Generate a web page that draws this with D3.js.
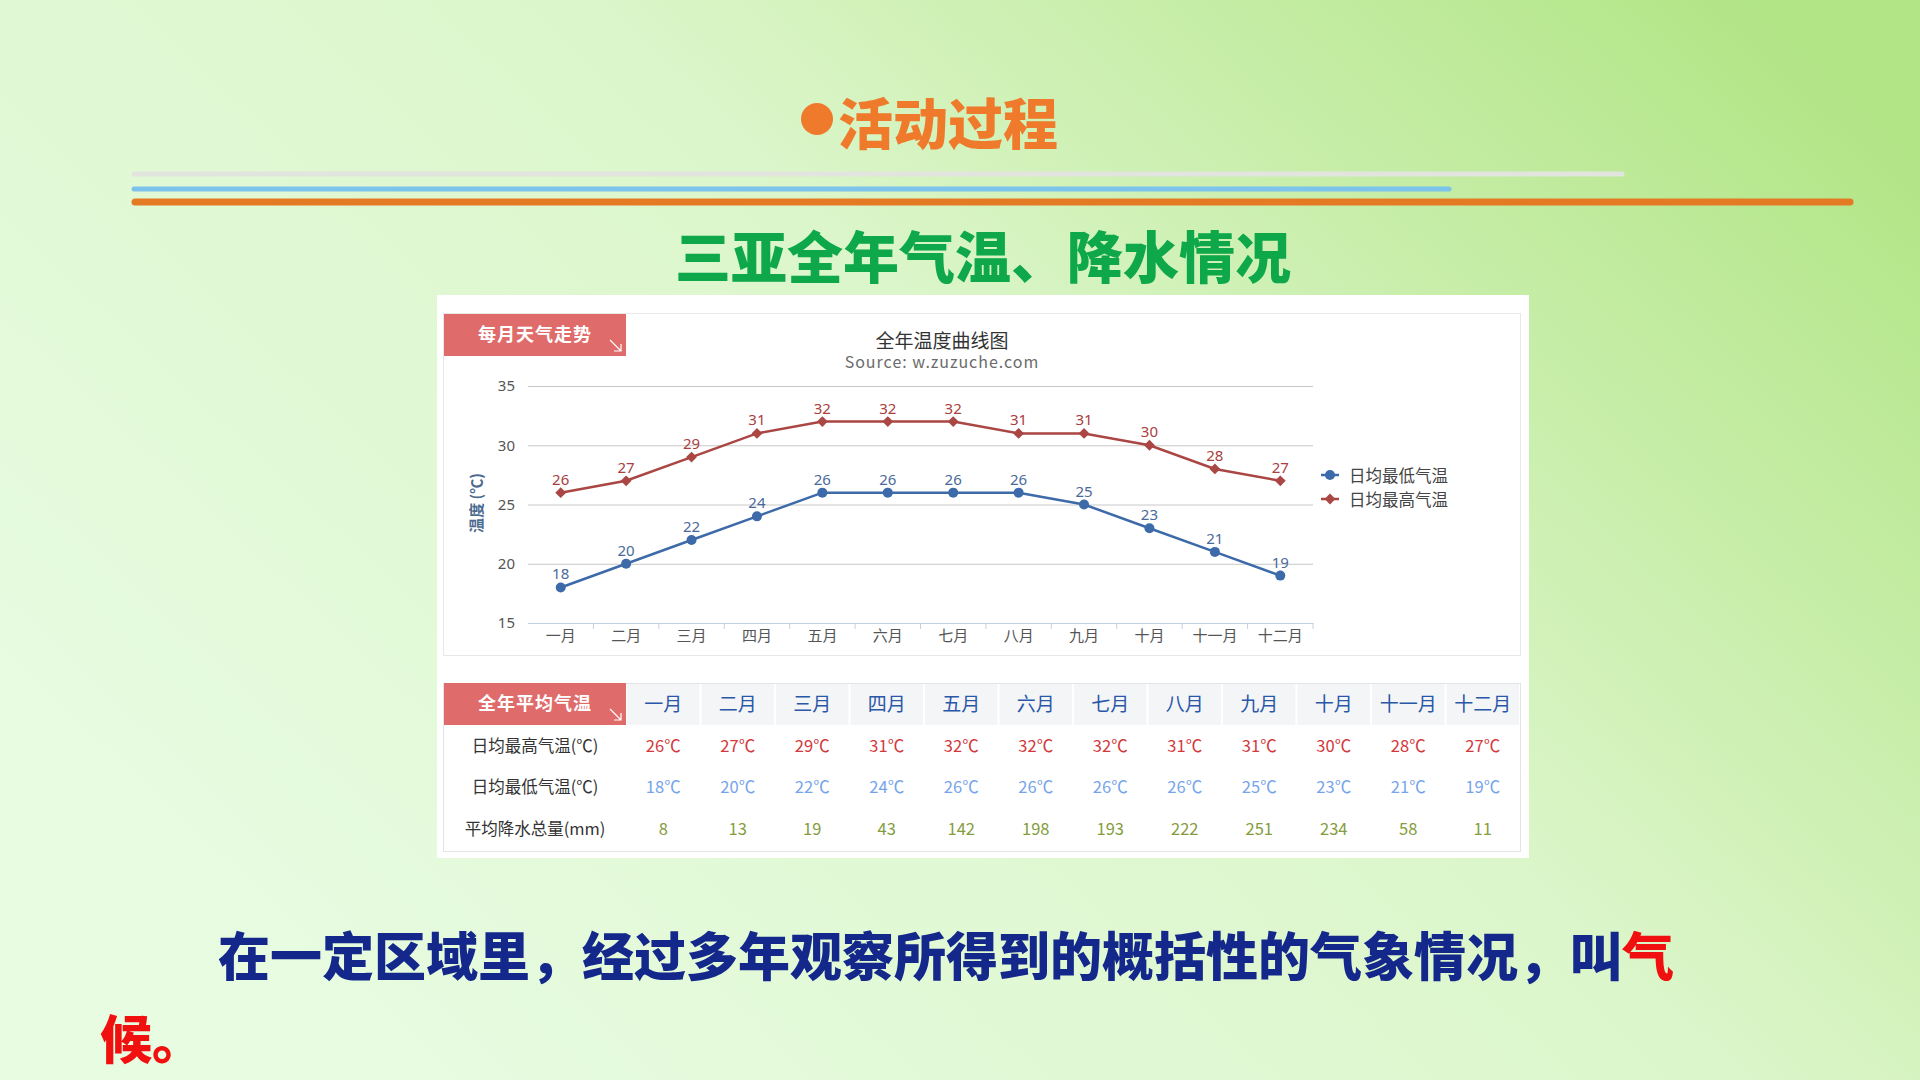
<!DOCTYPE html>
<html>
<head>
<meta charset="utf-8">
<script src="https://cdn.jsdelivr.net/npm/d3@7"></script>
<style>
  body { margin: 0; overflow: hidden; }
  svg { display: block; font-family: "Noto Sans CJK SC", "Noto Sans", sans-serif; }
</style>
</head>
<body>
<svg id="slide" width="1920" height="1080"></svg>
<script>
const months = ["一月", "二月", "三月", "四月", "五月", "六月", "七月", "八月", "九月", "十月", "十一月", "十二月"];
const highTemps = [26, 27, 29, 31, 32, 32, 32, 31, 31, 30, 28, 27];
const lowTemps = [18, 20, 22, 24, 26, 26, 26, 26, 25, 23, 21, 19];
const rainfall = [8, 13, 19, 43, 142, 198, 193, 222, 251, 234, 58, 11];
const yTicks = [15, 20, 25, 30, 35];
const rowLabels = ["日均最高气温(℃)", "日均最低气温(℃)", "平均降水总量(mm)"];

const svg = d3.select("#slide");

// background
const defs = svg.append("defs");
const bg = defs.append("linearGradient")
    .attr("id", "bg")
    .attr("x1", 0).attr("y1", 0.75).attr("x2", 1).attr("y2", 0.15);
bg.append("stop").attr("offset", "0%").attr("stop-color", "#e8fce2");
bg.append("stop").attr("offset", "55%").attr("stop-color", "#dcf6cb");
bg.append("stop").attr("offset", "100%").attr("stop-color", "#b2e586");
svg.append("rect").attr("width", 1920).attr("height", 1080).attr("fill", "url(#bg)");

// heading
svg.append("circle").attr("cx", 817).attr("cy", 119).attr("r", 16).attr("fill", "#f07a2c");
svg.append("text")
    .attr("x", 838).attr("y", 120)
    .attr("dominant-baseline", "central")
    .style("font-size", "55px").style("font-weight", 900)
    .attr("fill", "#f07a2c")
    .text("活动过程");

svg.append("line").attr("x1", 134).attr("x2", 1622).attr("y1", 174).attr("y2", 174)
    .attr("stroke", "#e2e4de").attr("stroke-width", 5).attr("stroke-linecap", "round");
svg.append("line").attr("x1", 134).attr("x2", 1449).attr("y1", 189).attr("y2", 189)
    .attr("stroke", "#7cc4ec").attr("stroke-width", 5).attr("stroke-linecap", "round");
svg.append("line").attr("x1", 135).attr("x2", 1850).attr("y1", 202).attr("y2", 202)
    .attr("stroke", "#e47a24").attr("stroke-width", 7).attr("stroke-linecap", "round");

svg.append("text")
    .attr("x", 983).attr("y", 253)
    .attr("text-anchor", "middle").attr("dominant-baseline", "central")
    .style("font-size", "56px").style("font-weight", 900)
    .attr("fill", "#0ea84a")
    .text("三亚全年气温、降水情况");

// white panel
svg.append("rect").attr("x", 437).attr("y", 295).attr("width", 1092).attr("height", 563).attr("fill", "#fff");
svg.append("rect").attr("x", 443.5).attr("y", 313.5).attr("width", 1077).attr("height", 342)
    .attr("fill", "#fff").attr("stroke", "#e8e8e8");

function tab(g, x, y, w, h, label) {
    g.append("rect").attr("x", x).attr("y", y).attr("width", w).attr("height", h).attr("fill", "#df6b6b");
    g.append("text").attr("x", x + w / 2).attr("y", y + h / 2 - 2)
        .attr("text-anchor", "middle").attr("dominant-baseline", "central")
        .style("font-size", "18px").style("font-weight", 700).style("letter-spacing", "1px").attr("fill", "#fff")
        .text(label);
    g.append("path")
        .attr("d", `M${x + w - 16},${y + h - 16} L${x + w - 5},${y + h - 5} M${x + w - 5},${y + h - 12} L${x + w - 5},${y + h - 5} L${x + w - 12},${y + h - 5}`)
        .attr("stroke", "#fff").attr("stroke-width", 1.2).attr("fill", "none");
}
tab(svg, 444, 314, 182, 42, "每月天气走势");

// chart
const x = d3.scaleBand().domain(months).range([528, 1313]);
const y = d3.scaleLinear().domain([15, 35]).range([623, 386]);
const cx = m => x(m) + x.bandwidth() / 2;

svg.append("text").attr("x", 942).attr("y", 339)
    .attr("text-anchor", "middle").attr("dominant-baseline", "central")
    .style("font-size", "19px").attr("fill", "#333").text("全年温度曲线图");
svg.append("text").attr("x", 942).attr("y", 361)
    .attr("text-anchor", "middle").attr("dominant-baseline", "central")
    .style("font-size", "16px").style("letter-spacing", "1px").attr("fill", "#6b6b6b").text("Source: w.zuzuche.com");

const yAxis = svg.append("g")
    .attr("transform", "translate(528,0)")
    .call(d3.axisLeft(y).tickValues(yTicks).tickSize(-(1313 - 528)).tickPadding(13));
yAxis.select(".domain").remove();
yAxis.selectAll(".tick line").attr("stroke", "#c8c8c8");
yAxis.selectAll(".tick").filter(d => d === 15).select("line").attr("stroke", "#c0d0e0");
yAxis.selectAll("text").style("font-size", "15px").style("font-family", "'Noto Sans', sans-serif").attr("fill", "#555");

svg.append("text")
    .attr("transform", "translate(475,503) rotate(-90)")
    .attr("text-anchor", "middle").attr("dominant-baseline", "central")
    .style("font-size", "15px").style("font-weight", 700).attr("fill", "#4d6a8f")
    .text("温度 (℃)");

const xAxis = svg.append("g")
    .attr("transform", "translate(0,623)")
    .call(d3.axisBottom(x).tickSize(0).tickPadding(7));
xAxis.select(".domain").attr("stroke", "#c0d0e0");
xAxis.selectAll("text").style("font-size", "15px").style("font-family", "'Noto Sans CJK SC', sans-serif").attr("fill", "#555");
svg.append("g").selectAll("line")
    .data(months.slice(1).concat(["end"]))
    .join("line")
    .attr("x1", d => d === "end" ? 1313 : x(d))
    .attr("x2", d => d === "end" ? 1313 : x(d))
    .attr("y1", 623).attr("y2", 629)
    .attr("stroke", "#c0d0e0");

const line = d3.line().x((d, i) => cx(months[i])).y(d => y(d));

// high series
svg.append("path").datum(highTemps).attr("d", line)
    .attr("fill", "none").attr("stroke", "#aa4643").attr("stroke-width", 2.5);
svg.append("g").selectAll("path")
    .data(highTemps).join("path")
    .attr("d", d3.symbol(d3.symbolDiamond2, 75))
    .attr("transform", (d, i) => `translate(${cx(months[i])},${y(d)})`)
    .attr("fill", "#aa4643");
svg.append("g").selectAll("text")
    .data(highTemps).join("text")
    .attr("x", (d, i) => cx(months[i])).attr("y", d => y(d) - 14)
    .attr("text-anchor", "middle").attr("dominant-baseline", "central")
    .style("font-size", "15px").style("font-family", "'Noto Sans', sans-serif").attr("fill", "#a8403e")
    .text(d => d);

// low series
svg.append("path").datum(lowTemps).attr("d", line)
    .attr("fill", "none").attr("stroke", "#3d6aa8").attr("stroke-width", 2.5);
svg.append("g").selectAll("circle")
    .data(lowTemps).join("circle")
    .attr("cx", (d, i) => cx(months[i])).attr("cy", d => y(d))
    .attr("r", 5).attr("fill", "#3d6aa8");
svg.append("g").selectAll("text")
    .data(lowTemps).join("text")
    .attr("x", (d, i) => cx(months[i])).attr("y", d => y(d) - 14)
    .attr("text-anchor", "middle").attr("dominant-baseline", "central")
    .style("font-size", "15px").style("font-family", "'Noto Sans', sans-serif").attr("fill", "#4a6a9a")
    .text(d => d);

// legend
const legend = svg.append("g").attr("transform", "translate(1330,475)");
const legItems = [
    { name: "日均最低气温", color: "#3d6aa8", shape: "circle" },
    { name: "日均最高气温", color: "#aa4643", shape: "diamond" }
];
legItems.forEach((it, i) => {
    const g = legend.append("g").attr("transform", `translate(0,${i * 24})`);
    g.append("line").attr("x1", -9).attr("x2", 9).attr("stroke", it.color).attr("stroke-width", 2.5);
    if (it.shape === "circle") g.append("circle").attr("r", 5).attr("fill", it.color);
    else g.append("path").attr("d", d3.symbol(d3.symbolDiamond2, 75)).attr("fill", it.color);
    g.append("text").attr("x", 19).attr("dominant-baseline", "central")
        .style("font-size", "16.5px").attr("fill", "#444").text(it.name);
});

// table
svg.append("rect").attr("x", 443.5).attr("y", 683.5).attr("width", 1077).attr("height", 168)
    .attr("fill", "#fff").attr("stroke", "#e4e4e4");
const tx = d3.scaleBand().domain(months).range([626, 1520]);
svg.append("g").selectAll("rect")
    .data(months).join("rect")
    .attr("x", d => tx(d) + 1).attr("y", 684).attr("width", tx.bandwidth() - 2).attr("height", 41)
    .attr("fill", "#f4f5f7");
svg.append("g").selectAll("text")
    .data(months).join("text")
    .attr("x", d => tx(d) + tx.bandwidth() / 2).attr("y", 702)
    .attr("text-anchor", "middle").attr("dominant-baseline", "central")
    .style("font-size", "19px").attr("fill", "#2a57a8")
    .text(d => d);
tab(svg, 444, 683, 182, 42, "全年平均气温");

const rowY = [745, 786, 828];
const rows = [
    { values: highTemps, unit: "℃", color: "#d2383c" },
    { values: lowTemps, unit: "℃", color: "#76a4ea" },
    { values: rainfall, unit: "", color: "#849c3c" }
];
rows.forEach((r, ri) => {
    svg.append("text").attr("x", 535).attr("y", rowY[ri])
        .attr("text-anchor", "middle").attr("dominant-baseline", "central")
        .style("font-size", "16.5px").attr("fill", "#333").text(rowLabels[ri]);
    svg.append("g").selectAll("text")
        .data(r.values).join("text")
        .attr("x", (d, i) => tx(months[i]) + tx.bandwidth() / 2).attr("y", rowY[ri])
        .attr("text-anchor", "middle").attr("dominant-baseline", "central")
        .style("font-size", "16.5px").attr("fill", r.color)
        .text(d => d + r.unit);
});

// bottom sentence
const para = svg.append("text")
    .style("font-size", "52px").style("font-weight", 900)
    .attr("dominant-baseline", "central");
para.append("tspan").attr("x", 218).attr("y", 953).attr("fill", "#13288a")
    .text("在一定区域里，经过多年观察所得到的概括性的气象情况，叫");
para.append("tspan").attr("fill", "#f01010").text("气");
para.append("tspan").attr("x", 100).attr("y", 1036).attr("fill", "#f01010").text("候。");
</script>
</body>
</html>
